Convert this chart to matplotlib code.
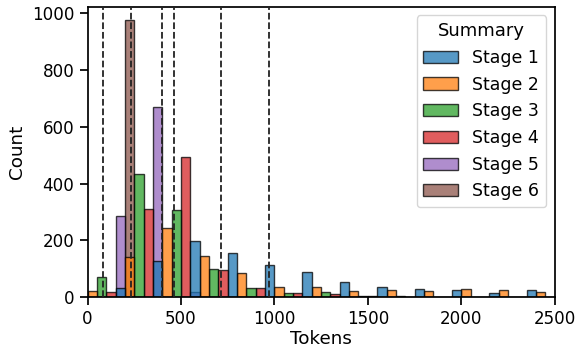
import matplotlib
matplotlib.use("Agg")
import matplotlib.pyplot as plt
import matplotlib.patches as mpatches
import numpy as np
import seaborn as sns

sns.set_theme(style="ticks", context="notebook", font_scale=1.1)
plt.rcParams['font.family'] = ['DejaVu Sans']
plt.rcParams.update({
    "text.color": "black",
    "axes.labelcolor": "black",
    "xtick.color": "black",
    "ytick.color": "black",
    "axes.edgecolor": "black",
})

# Histogram data: bins of width 200 starting at -50; each bin split into 4 slots
bin_start = -50
bin_width = 200
n_slots = 4
stages = ["Stage 1", "Stage 2", "Stage 3", "Stage 4", "Stage 5", "Stage 6"]
colors = ["#1f77b4", "#ff7f0e", "#2ca02c", "#d62728", "#9467bd", "#8c564b"]

stage1 = [0, 33, 128, 197, 154, 114, 88, 53, 34, 27, 25, 15, 24]
stage2 = [21, 142, 243, 144, 85, 37, 34, 21, 25, 20, 29, 24, 17]
stage3 = [72, 435, 306, 98, 31, 13, 18, 4, 2, 1, 1, 1, 0]
stage4 = [17, 310, 494, 94, 31, 13, 10, 3, 1, 0, 1, 0, 0]
stage5 = [0, 287, 669, 18, 0, 0, 0, 0, 0, 0, 0, 0, 0]
stage6 = [0, 975, 0, 0, 0, 0, 0, 0, 0, 0, 0, 0, 0]
counts = [stage1, stage2, stage3, stage4, stage5, stage6]

# Mean token counts (dashed lines)
means = [82, 232, 400, 461, 712, 971]

fig = plt.figure(figsize=(5.76, 3.49), dpi=100)
ax = fig.add_axes([0.152, 0.149, 0.811, 0.832])

sub_w = bin_width / n_slots
for i in reversed(range(len(stages))):
    c = np.array(counts[i])
    lefts = bin_start + bin_width * np.arange(len(c)) + (i % n_slots) * sub_w
    ax.bar(lefts, c, width=sub_w, align="edge", color=colors[i],
           edgecolor="black", linewidth=1.0, alpha=0.75)

for m in means:
    ax.axvline(m, color="#222222", linestyle="--", linewidth=1.3, zorder=3)

ax.set_xlim(0, 2500)
ax.set_ylim(0, None)
ax.set_xticks([0, 500, 1000, 1500, 2000, 2500])
ax.set_yticks([0, 200, 400, 600, 800, 1000])
ax.set_xlabel("Tokens", labelpad=1.5)
ax.set_ylabel("Count")

handles = [mpatches.Patch(facecolor=colors[i], edgecolor="black", linewidth=1.0,
                          alpha=0.75, label=stages[i]) for i in range(len(stages))]
ax.legend(handles=handles, title="Summary", loc="upper right",
          fontsize=12.5, title_fontsize=13)

fig.savefig("out.png", dpi=100)
